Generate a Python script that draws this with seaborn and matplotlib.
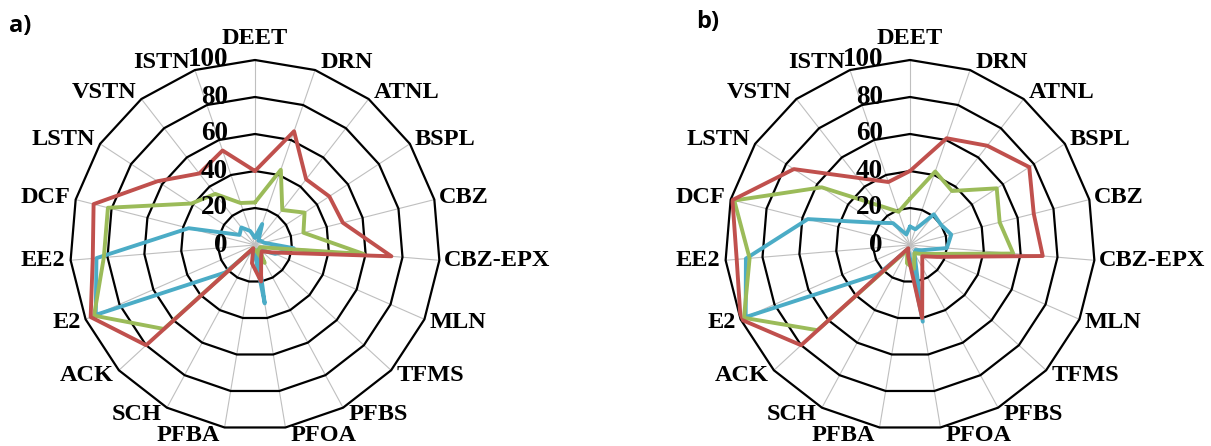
import numpy as np
import pandas as pd
import matplotlib
matplotlib.use("Agg")
import matplotlib.pyplot as plt
import seaborn as sns

categories = ["DEET", "DRN", "ATNL", "BSPL", "CBZ", "CBZ-EPX", "MLN", "TFMS", "PFBS",
              "PFOA", "PFBA", "SCH", "ACK", "E2", "EE2", "DCF", "LSTN", "VSTN", "ISTN"]
ticks = [0, 20, 40, 60, 80, 100]
tick_labels = ["0", "20", "40", "60", "80", "100"]
panel_labels = ["a)", "b)"]

a_red = [40, 65, 45, 48, 49, 74, 10, 5, 7, 20, 10, 2, 80, 97, 88, 90, 63, 49, 54]
a_green = [23, 43, 24, 32, 27, 59, 3, 3, 11, 3, 3, 2, 67, 95, 82, 82, 41, 35, 24]
a_blue = [4, 12, 3, 4, 5, 21, 12, 4, 3, 32, 3, 3, 22, 94, 86, 37, 10, 12, 8]

b_red = [40, 61, 68, 77, 69, 72, 16, 9, 14, 40, 6, 2, 80, 100, 94, 99, 75, 46, 36]
b_green = [25, 42, 37, 56, 50, 56, 12, 7, 5, 13, 10, 3, 68, 98, 87, 98, 57, 27, 19]
b_blue = [10, 9, 21, 20, 23, 20, 7, 4, 5, 42, 4, 3, 23, 97, 89, 57, 22, 15, 6]

colors = {"blue": "#4BACC6", "green": "#9BBB59", "red": "#C0504D"}

sns.set_style("white")
plt.rcParams["font.family"] = ["Liberation Serif", "DejaVu Serif"]
plt.rcParams["text.color"] = "black"

W, H = 1211, 446
fig = plt.figure(figsize=(W / 100, H / 100), dpi=100)

R = 185  # px radius
centers = [(255, 245), (910, 245)]
PX = 0.72  # points per pixel


def draw(ax, series, label, lab_xy):
    n = len(categories)
    theta = np.linspace(0, 2 * np.pi, n, endpoint=False)
    theta_c = np.append(theta, 2 * np.pi)
    ax.set_theta_zero_location("N")
    ax.set_theta_direction(-1)
    ax.set_facecolor("none")
    ax.grid(False)
    ax.spines["polar"].set_visible(False)
    for t in theta:
        ax.plot([t, t], [0, 100], color="#BFBFBF", lw=0.8, zorder=1, clip_on=False)
    for v in ticks[1:]:
        ax.plot(theta_c, [v] * (n + 1), color="black", lw=1.6, zorder=2, clip_on=False)
    for name in ["blue", "green", "red"]:
        vals = series[name]
        df = pd.DataFrame({"theta": theta_c, "value": list(vals) + [vals[0]]})
        sns.lineplot(data=df, x="theta", y="value", ax=ax, color=colors[name],
                     lw=2.8, sort=False, estimator=None, zorder=3)
    ax.set_xlabel("")
    ax.set_ylabel("")
    ax.set_xticks([])
    ax.set_yticks([])
    ax.set_ylim(0, 100)
    for v, s in zip(ticks, tick_labels):
        ax.annotate(s, xy=(0, v), xytext=(-27 * PX, 0), textcoords="offset points",
                    ha="right", va="center", fontsize=19.5, fontweight="bold",
                    color="black", zorder=5, annotation_clip=False)
    for t, c in zip(theta, categories):
        s, co = np.sin(t), np.cos(t)
        if abs(s) < 0.05:
            ha = "center"
            dx, dy = 0, (22 if co > 0 else -22)
        else:
            ha = "left" if s > 0 else "right"
            dx, dy = (5 if s > 0 else -5), co * 8
        ax.annotate(c, xy=(t, 100), xytext=(dx * PX, dy * PX), textcoords="offset points",
                    ha=ha, va="center", fontsize=17.5, fontweight="bold",
                    color="black", annotation_clip=False)
    fig.text(lab_xy[0] / W, 1 - lab_xy[1] / H, label, fontsize=17, fontweight="bold",
             family=["Open Sans", "DejaVu Sans"], color="black", ha="left", va="center")


series_list = [
    {"red": a_red, "green": a_green, "blue": a_blue},
    {"red": b_red, "green": b_green, "blue": b_blue},
]
lab_pos = [(9, 26), (696, 22)]

for (cx, cy), ser, lab, lp in zip(centers, series_list, panel_labels, lab_pos):
    rect = [(cx - R) / W, (H - cy - R) / H, 2 * R / W, 2 * R / H]
    ax = fig.add_axes(rect, projection="polar")
    draw(ax, ser, lab, lp)

fig.savefig("out.png", dpi=100, facecolor="white")
